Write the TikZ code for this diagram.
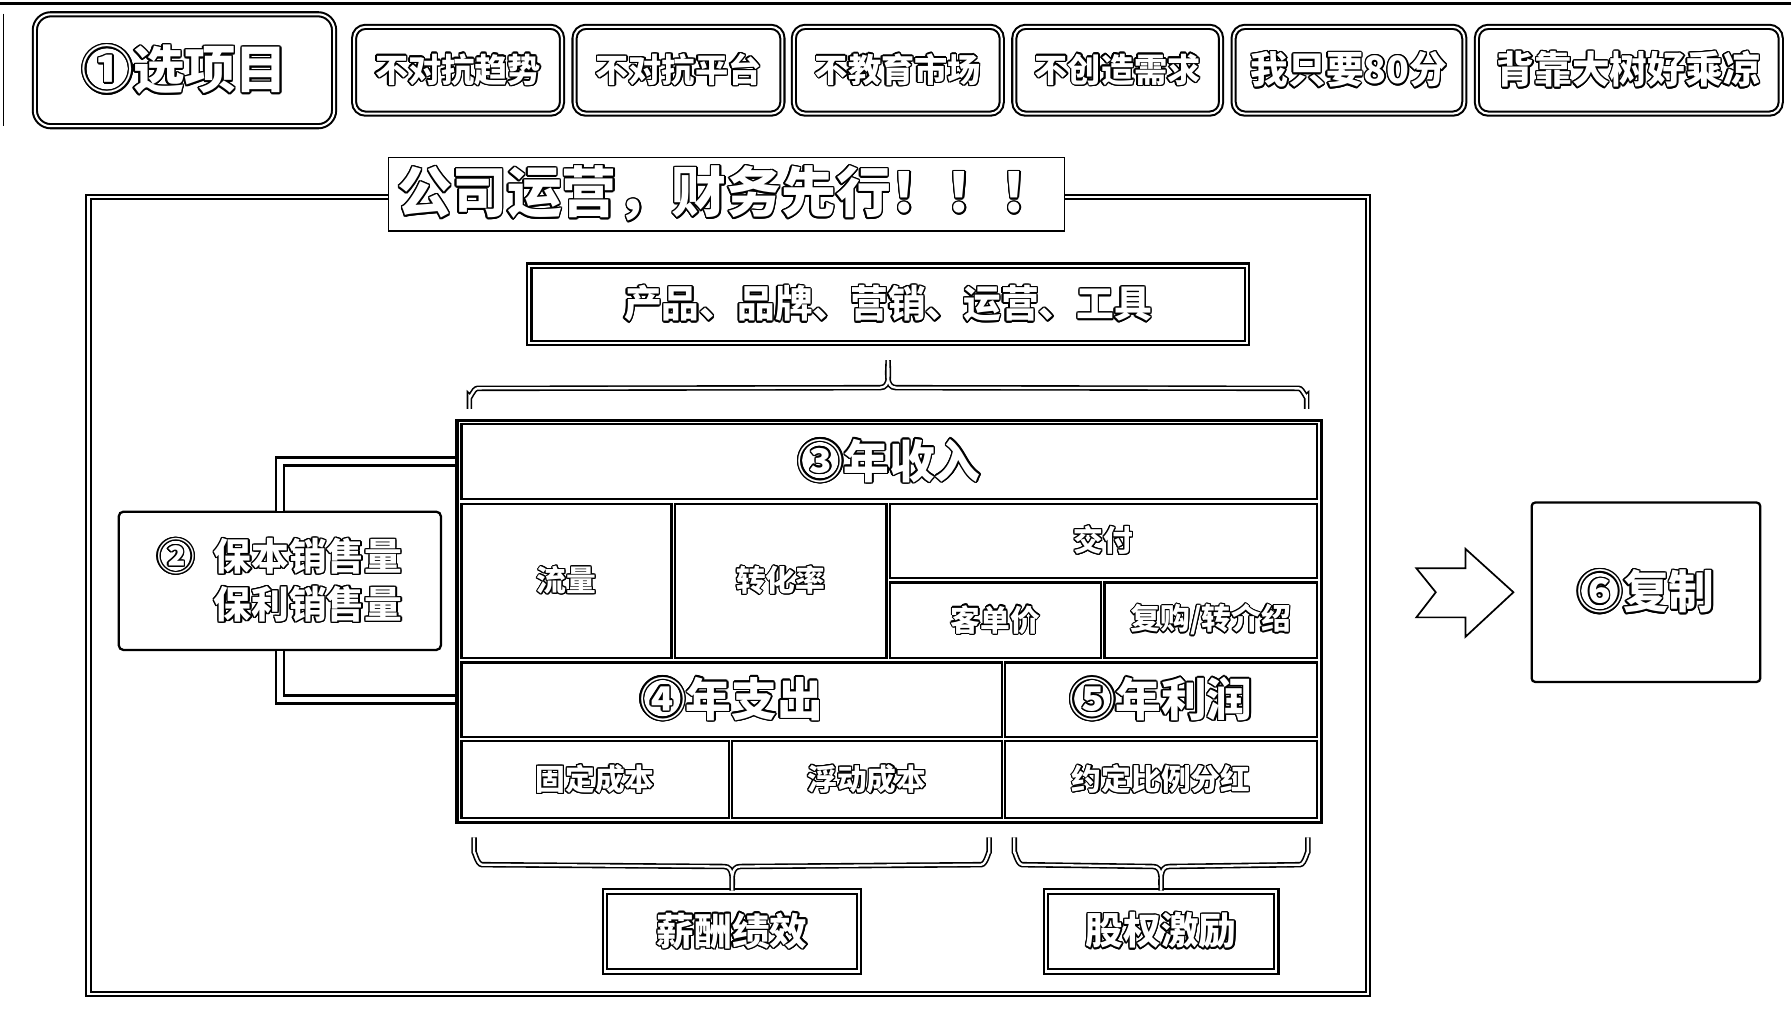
\documentclass[tikz,border=0pt]{standalone}
\usepackage{fontspec}
\setmainfont{Noto Sans CJK SC}
\usepackage{contour}
\contourlength{1.2pt}
\usepackage{tikz}
\usetikzlibrary{calc}

\tikzset{
  dbl/.style={draw, line width=1.8pt, double=white, double distance=1.8pt},
  tagbox/.style={dbl, rounded corners=10pt, fill=white, inner sep=0pt, text=white},
  cellbox/.style={draw, line width=2pt, fill=white, inner sep=0pt, text=white,
    font=\fontsize{26}{30}\selectfont\bfseries\contourlength{1pt}},
  brace/.style={draw, line width=1.4pt, double=white, double distance=2pt},
  link/.style={draw, line width=2pt, double=white, double distance=5pt},
}
\newcommand{\ot}[1]{\contour{black}{#1}}
% grid cell: name, x1, y1, x2, y2, text
\newcommand{\gcell}[7][]{%
  \node[cellbox, minimum width={#5-#3}, minimum height={#6-#4}, #1] (#2)
    at ({(#3+#5)/2},{(#4+#6)/2}) {\ot{#7}};}

\begin{document}
\begin{tikzpicture}[x=1pt,y=-1pt]
\def\fS{\fontsize{29}{34}\selectfont\bfseries\contourlength{1.2pt}}
\def\fM{\fontsize{33}{40}\selectfont\bfseries\contourlength{1.2pt}}
\def\fL{\fontsize{40}{46}\selectfont\bfseries\contourlength{1.3pt}}
\useasboundingbox (0,0) rectangle (1568,887);
\draw[line width=3pt] (0,3) -- (1568,3);
\draw[line width=1.5pt] (3,12) -- (3,110);

% the choices
\node[tagbox, minimum width=262, minimum height=98, rounded corners=14pt,
  font=\fontsize{45}{50}\selectfont\bfseries\contourlength{1.3pt}] (pick) at (161.5,61.5) {\ot{①选项目}};
\node[tagbox, minimum width=182, minimum height=76, font=\fS] (t1) at (401,61.5) {\ot{不对抗趋势}};
\node[tagbox, minimum width=182, minimum height=76, font=\fS] (t2) at (594,61.5) {\ot{不对抗平台}};
\node[tagbox, minimum width=182, minimum height=76, font=\fS] (t3) at (786,61.5) {\ot{不教育市场}};
\node[tagbox, minimum width=181, minimum height=76, font=\fS] (t4) at (978.5,61.5) {\ot{不创造需求}};
\node[tagbox, minimum width=202, minimum height=76, font=\fM] (t5) at (1181,61.5) {\ot{我只要80分}};
\node[tagbox, minimum width=266, minimum height=76, font=\fM] (t6) at (1426,61.5) {\ot{背靠大树好乘凉}};

% frame and title
\node[dbl, minimum width=1120, minimum height=698] (frame) at (637.5,521.5) {};
\node[draw, line width=1.5pt, fill=white, minimum width=592, minimum height=64, text=white,
  font=\fontsize{48}{54}\selectfont\bfseries\contourlength{1.3pt}] (title) at (636,170) {\ot{公司运营，财务先行！！！}};
\node[dbl, minimum width=628, minimum height=68, text=white, font=\fM] (prod) at (777.5,266.5) {\ot{产品、品牌、营销、运营、工具}};

% the table
\node[draw, line width=3pt, minimum width=757, minimum height=352] (grid) at (778.5,544) {};
\gcell[font=\fL]{inc}{404}{371}{1153}{437}{③年收入}
\gcell{flow}{404}{441}{588}{576}{流量}
\gcell{conv}{591}{441}{776}{576}{转化率}
\gcell{deliv}{779}{441}{1153}{506}{交付}
\gcell{price}{779}{510}{964}{576}{客单价}
\gcell{rebuy}{967}{510}{1153}{576}{复购/转介绍}
\gcell[font=\fL]{exp}{404}{580}{877}{645}{④年支出}
\gcell[font=\fL]{prof}{880}{580}{1153}{645}{⑤年利润}
\gcell{fix}{404}{649}{638}{716}{固定成本}
\gcell{float}{641}{649}{877}{716}{浮动成本}
\gcell{share}{880}{649}{1153}{716}{约定比例分红}

% break-even box
\node[draw, line width=2pt, rounded corners=4pt, fill=white, minimum width=282, minimum height=121,
  align=right, text=white, font=\fM] (two) at (245,508.5) {\ot{②\hspace{0.5em}保本销售量}\\[2pt]\ot{保利销售量}};
\draw[link] (grid.west |- inc.west) -| (two.north);
\draw[link] (two.south) |- (grid.west |- exp.west);

% bottom boxes
\node[dbl, minimum width=222, minimum height=70, text=white, font=\fM] (pay) at (641,815.5) {\ot{薪酬绩效}};
\node[dbl, minimum width=202, minimum height=70, text=white, font=\fM] (equity) at (1016.5,815.5) {\ot{股权激励}};

% braces
\coordinate (ptip) at ($(prod.south)+(0,14)$);
\draw[brace] (411,358) -- (411,347) to[out=-90,in=180] (418,340) -- ($(ptip)+(-7,24)$)
  to[out=0,in=-90] (ptip) to[out=-90,in=180] ($(ptip)+(7,24)$) -- (1137,340)
  to[out=0,in=-90] (1144,347) -- (1144,358);
\draw[brace] (415,733) -- (415,747) to[out=90,in=180] (422,757) -- ($(pay.north)+(-7,-21)$)
  to[out=0,in=90] (pay.north) to[out=90,in=180] ($(pay.north)+(7,-21)$) -- (859,757)
  to[out=0,in=90] (866,747) -- (866,733);
\draw[brace] (888,733) -- (888,747) to[out=90,in=180] (895,757) -- ($(equity.north)+(-7,-21)$)
  to[out=0,in=90] (equity.north) to[out=90,in=180] ($(equity.north)+(7,-21)$) -- (1138,757)
  to[out=0,in=90] (1145,747) -- (1145,733);

% copy
\node[draw, line width=2pt, rounded corners=3pt, minimum width=200, minimum height=157,
  text=white, font=\fL] (six) at (1441,518.5) {\ot{⑥复制}};
\coordinate (atip) at ($(six.west)+(-15,0)$);
\draw[line width=1.5pt, line join=miter] (atip) -- ++(-42,-38) -- ++(0,17) -- ++(-43,0)
  -- ++(17,21) -- ++(-17,22) -- ++(43,0) -- ++(0,17) -- cycle;
\end{tikzpicture}
\end{document}
